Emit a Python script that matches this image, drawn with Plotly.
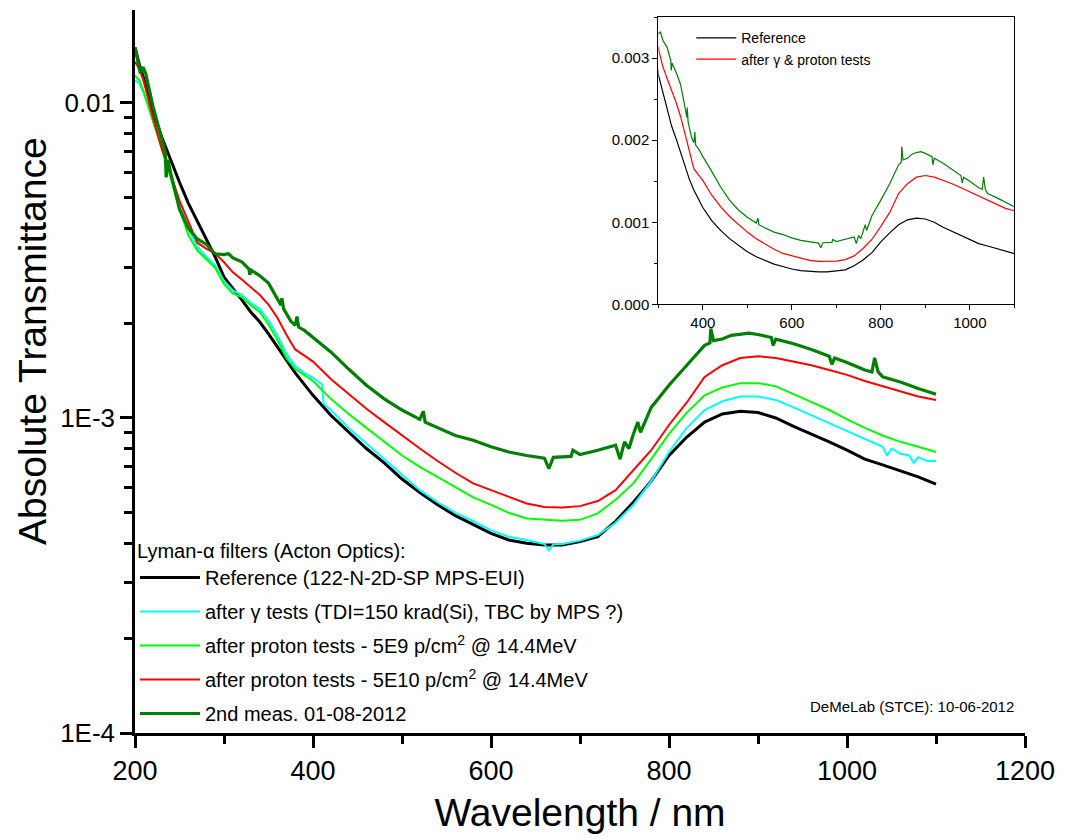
import plotly.graph_objects as go

# ---------------- data ----------------
wl = [200, 205, 210, 220, 230, 240, 250, 260, 270, 280, 290, 300, 310, 320, 330, 340, 350,
      360, 370, 380, 390, 400, 420, 440, 460, 480, 500, 520, 540, 560, 580, 600, 620, 640,
      660, 680, 700, 720, 740, 760, 780, 800, 820, 840, 860, 880, 900, 920, 940, 960, 980,
      1000, 1020, 1040, 1060, 1080, 1100]

ref_black = [0.0150, 0.0132, 0.0119, 0.0094, 0.0078, 0.0066, 0.0056, 0.0048, 0.0042, 0.0037,
             0.00325, 0.00280, 0.00258, 0.00237, 0.00217, 0.00202, 0.00185, 0.00168, 0.00152,
             0.00139, 0.00128, 0.00118, 0.00102, 0.00090, 0.00080, 0.00072, 0.00064, 0.00058,
             0.00053, 0.00049, 0.00046, 0.00043, 0.00041, 0.00040, 0.000395, 0.000395,
             0.000405, 0.000420, 0.000470, 0.000540, 0.000630, 0.000760, 0.000870, 0.000970,
             0.00103, 0.00105, 0.00104, 0.00100, 0.00094, 0.00089, 0.00084, 0.00079, 0.00074,
             0.00071, 0.00068, 0.00065, 0.000617]

red_5e10 = [0.0135, 0.0128, 0.0117, 0.0090, 0.0072, 0.0059, 0.0049, 0.0042, 0.0036, 0.00345,
            0.00333, 0.00312, 0.00290, 0.00275, 0.00261, 0.00246, 0.00229, 0.00208, 0.00184,
            0.00165, 0.00158, 0.00151, 0.00133, 0.00119, 0.00107, 0.00097, 0.00088, 0.00080,
            0.00073, 0.00067, 0.00062, 0.00059, 0.00056, 0.000535, 0.000522, 0.00052,
            0.000525, 0.000545, 0.00059, 0.00068, 0.00079, 0.00095, 0.00112, 0.00135,
            0.00147, 0.00155, 0.00157, 0.00155, 0.00151, 0.00147, 0.00142, 0.00137, 0.00131,
            0.00126, 0.00121, 0.00117, 0.00114]

lime_5e9 = [0.0122, 0.0118, 0.0108, 0.0088, 0.0072, 0.0058, 0.0046, 0.0038, 0.0034, 0.00320,
            0.00300, 0.00266, 0.00248, 0.00242, 0.00228, 0.00217, 0.00198, 0.00177, 0.00155,
            0.00143, 0.00137, 0.00131, 0.00115, 0.00103, 0.00093, 0.00084, 0.00076, 0.00070,
            0.00065, 0.00060, 0.00056, 0.00053, 0.00050, 0.00048, 0.000475, 0.000472,
            0.000475, 0.000498, 0.00055, 0.00062, 0.00074, 0.00089, 0.00104, 0.00118,
            0.00125, 0.00129, 0.00129, 0.00126, 0.00119, 0.00112, 0.00106, 0.00099, 0.00093,
            0.00088, 0.00084, 0.00081, 0.00078]

wl_cyan = [200, 205, 210, 220, 230, 240, 250, 260, 270, 280, 290, 300, 310, 320, 330, 340, 350,
           360, 370, 380, 390, 400, 410, 412, 420, 440, 460, 480, 500, 520, 540, 560, 580, 600,
           620, 640, 660, 665, 670, 680, 700, 720, 740, 760, 780, 800, 820, 840, 860, 880, 900,
           920, 940, 960, 980, 1000, 1020, 1040, 1045, 1050, 1060, 1070, 1075, 1080, 1090, 1100]
cyan_gamma = [0.0118, 0.0115, 0.0107, 0.0089, 0.0074, 0.0060, 0.0048, 0.0040, 0.0035, 0.00325,
              0.00305, 0.00272, 0.00254, 0.00246, 0.00232, 0.00222, 0.00204, 0.00183, 0.00160,
              0.00146, 0.00139, 0.00134, 0.00128, 0.00111, 0.00106, 0.00093, 0.00083, 0.00074,
              0.00066, 0.00059, 0.00054, 0.00050, 0.00047, 0.00044, 0.00042, 0.00041, 0.000398,
              0.00038, 0.000397, 0.000398, 0.000408, 0.000425, 0.000465, 0.00053, 0.00063,
              0.00078, 0.00093, 0.00106, 0.00113, 0.00117, 0.00117, 0.00114, 0.00108, 0.00102,
              0.00096, 0.00091, 0.00086, 0.00081, 0.00076, 0.00080, 0.00077, 0.00076, 0.00072,
              0.00075, 0.00073, 0.00073]

wl_green = [200, 203, 206, 209, 212, 220, 230, 234, 235, 237, 240, 250, 260, 270, 280, 290, 300,
            305, 310, 320, 328, 329, 331, 340, 350, 360, 364, 365, 367, 375, 380, 382, 384, 390,
            400, 420, 440, 460, 480, 500, 520, 524, 526, 540, 560, 580, 600, 620, 640, 660, 665,
            670, 690, 692, 700, 720, 740, 745, 750, 755, 760, 765, 768, 780, 800, 820, 840, 846,
            847, 850, 860, 870, 880, 890, 900, 915, 917, 920, 940, 960, 980, 983, 986, 1000,
            1020, 1028, 1031, 1035, 1040, 1060, 1080, 1100]
green_2nd = [0.0150, 0.0138, 0.0124, 0.0130, 0.0124, 0.0098, 0.0078, 0.0070, 0.0058, 0.0066,
             0.0060, 0.0046, 0.0040, 0.0037, 0.00356, 0.00332, 0.00330, 0.00332, 0.00322,
             0.00313, 0.00297, 0.00285, 0.00294, 0.00283, 0.00268, 0.00240, 0.00228, 0.00240,
             0.00222, 0.00203, 0.00197, 0.00210, 0.00194, 0.00190, 0.00180, 0.00162, 0.00143,
             0.00127, 0.00115, 0.00106, 0.00099, 0.00105, 0.00097, 0.00093, 0.00088, 0.00085,
             0.00081, 0.00078, 0.00076, 0.000745, 0.00069, 0.00075, 0.000755, 0.00079,
             0.000765, 0.00079, 0.00082, 0.00074, 0.00084, 0.00080, 0.00089, 0.00097, 0.00090,
             0.00108, 0.00127, 0.00147, 0.00170, 0.00173, 0.00192, 0.00176, 0.00178, 0.00183,
             0.00185, 0.00186, 0.00184, 0.00180, 0.00170, 0.00178, 0.00172, 0.00165, 0.00157,
             0.00148, 0.00155, 0.00150, 0.00142, 0.00140, 0.00155, 0.00140, 0.00135, 0.00130,
             0.00124, 0.00119]

legend_title = "Lyman-\u03b1 filters (Acton Optics):"
names = ["Reference (122-N-2D-SP MPS-EUI)",
         "after \u03b3 tests (TDI=150 krad(Si), TBC by MPS ?)",
         "after proton tests - 5E9 p/cm<sup>2</sup> @ 14.4MeV",
         "after proton tests - 5E10 p/cm<sup>2</sup> @ 14.4MeV",
         "2nd meas. 01-08-2012"]
inset_names = ["Reference", "after \u03b3 & proton tests"]

x_major = [200, 400, 600, 800, 1000, 1200]
y_major = [1e-4, 1e-3, 1e-2]
y_major_text = ["1E-4", "1E-3", "0.01"]
y_minor = [k * 1e-4 for k in range(2, 10)] + [k * 1e-3 for k in range(2, 10)]
inset_y_major = [0.0, 0.001, 0.002, 0.003]
inset_y_text = ["0.000", "0.001", "0.002", "0.003"]

# ---------------- figure ----------------
FONT = "Liberation Sans, Arial, sans-serif"
fig = go.Figure()

main_series = [
    (wl, ref_black, "#000000", 3.0),
    (wl_cyan, cyan_gamma, "#00FFFF", 2.0),
    (wl, lime_5e9, "#00FF00", 2.0),
    (wl, red_5e10, "#FF0000", 2.0),
    (wl_green, green_2nd, "#007F00", 3.2),
]
for i, ((xs, ys, col, w), nm) in enumerate(zip(main_series, names)):
    fig.add_trace(go.Scatter(x=xs, y=ys, mode="lines", name=nm,
                             line=dict(color=col, width=w), legendgroup=f"g{i}",
                             xaxis="x", yaxis="y", legend="legend"))

# inset (linear scale)
fig.add_trace(go.Scatter(x=wl, y=ref_black, mode="lines", name=inset_names[0],
                         line=dict(color="#000000", width=1.2),
                         xaxis="x2", yaxis="y2", legend="legend2"))
fig.add_trace(go.Scatter(x=wl, y=red_5e10, mode="lines", name=inset_names[1],
                         line=dict(color="#FF0000", width=1.2),
                         xaxis="x2", yaxis="y2", legend="legend2"))
fig.add_trace(go.Scatter(x=wl_green, y=green_2nd, mode="lines", name="2nd meas.",
                         line=dict(color="#007F00", width=1.2), showlegend=False,
                         xaxis="x2", yaxis="y2"))

ax_main_common = dict(showgrid=False, zeroline=False, linecolor="black", linewidth=2.5,
                      tickcolor="black", tickwidth=2.5)

IX0, IX1 = 0.588, 0.988
IY0, IY1 = 0.593, 0.990

fig.update_layout(
    width=1065, height=838,
    margin=dict(l=135, r=34, t=10, b=105),
    paper_bgcolor="white", plot_bgcolor="white",
    font=dict(family=FONT, color="black"),
    xaxis=dict(**ax_main_common, domain=[0, 1], range=[200, 1200], anchor="y",
               showline=True, ticks="outside", ticklen=12,
               tickmode="array", tickvals=x_major,
               minor=dict(ticks="outside", ticklen=8, dtick=100, tick0=200,
                          tickcolor="black", tickwidth=2.5),
               tickfont=dict(size=27),
               title=dict(text="Wavelength / nm", font=dict(size=39), standoff=14)),
    yaxis=dict(**ax_main_common, domain=[0, 1], type="log", range=[-4, -1.705], anchor="x",
               showline=True, ticks="outside", ticklen=12,
               tickmode="array", tickvals=y_major, ticktext=y_major_text,
               minor=dict(ticks="outside", ticklen=8, tickmode="array", tickvals=y_minor,
                          tickcolor="black", tickwidth=2.5),
               tickfont=dict(size=26)),
    xaxis3=dict(**ax_main_common, overlaying="x", side="top", anchor="y", range=[200, 1200],
                showline=True, ticks="inside", ticklen=12, showticklabels=False,
                tickmode="array", tickvals=x_major,
                minor=dict(ticks="inside", ticklen=8, dtick=100, tick0=200,
                           tickcolor="black", tickwidth=2.5)),
    yaxis3=dict(**ax_main_common, overlaying="y", side="right", anchor="x", type="log",
                range=[-4, -1.705], showline=True, ticks="inside", ticklen=12,
                showticklabels=False, tickmode="array", tickvals=y_major,
                minor=dict(ticks="inside", ticklen=8, tickmode="array", tickvals=y_minor,
                           tickcolor="black", tickwidth=2.5)),
    xaxis2=dict(domain=[IX0, IX1], anchor="y2", range=[300, 1100], showgrid=False,
                zeroline=False, showline=True, mirror=True, linecolor="black", linewidth=1,
                ticks="outside", ticklen=5, tickcolor="black", tickwidth=1,
                tickmode="linear", tick0=400, dtick=200,
                minor=dict(ticks="outside", ticklen=3, dtick=100, tick0=300,
                           tickcolor="black", tickwidth=1),
                tickfont=dict(size=15)),
    yaxis2=dict(domain=[IY0, IY1], anchor="x2", range=[0, 0.0035], showgrid=False,
                zeroline=False, showline=True, mirror=True, linecolor="black", linewidth=1,
                ticks="outside", ticklen=5, tickcolor="black", tickwidth=1,
                tickmode="array", tickvals=inset_y_major, ticktext=inset_y_text,
                minor=dict(ticks="outside", ticklen=3, dtick=0.0005, tick0=0,
                           tickcolor="black", tickwidth=1),
                tickfont=dict(size=15)),
    yaxis4=dict(overlaying="y2", side="right", anchor="x2", range=[0, 0.0035],
                showgrid=False, zeroline=False, showline=False,
                ticks="inside", ticklen=5, tickcolor="black", tickwidth=1,
                showticklabels=False, tickmode="array", tickvals=inset_y_major,
                minor=dict(ticks="inside", ticklen=3, dtick=0.0005, tick0=0,
                           tickcolor="black", tickwidth=1)),
    legend=dict(x=0.0, y=0.0, xanchor="left", yanchor="bottom",
                bgcolor="rgba(0,0,0,0)", borderwidth=0,
                font=dict(size=20, family=FONT), itemwidth=60,
                title=dict(text=legend_title, font=dict(size=20, family=FONT)),
                tracegroupgap=5),
    legend2=dict(x=0.625, y=0.983, xanchor="left", yanchor="top",
                 bgcolor="rgba(0,0,0,0)", borderwidth=0,
                 font=dict(size=14, family=FONT), itemwidth=40, tracegroupgap=0),
    showlegend=True,
)

fig.add_annotation(text="Absolute Transmittance", xref="paper", yref="paper",
                   x=-0.116, y=0.542, xanchor="center", yanchor="middle", textangle=-90,
                   showarrow=False, font=dict(size=39, family=FONT, color="black"))

fig.add_annotation(text="DeMeLab (STCE): 10-06-2012", xref="paper", yref="paper",
                   x=0.99, y=0.022, xanchor="right", yanchor="bottom", showarrow=False,
                   font=dict(size=15, family=FONT, color="black"))

fig.write_html("out.html")
